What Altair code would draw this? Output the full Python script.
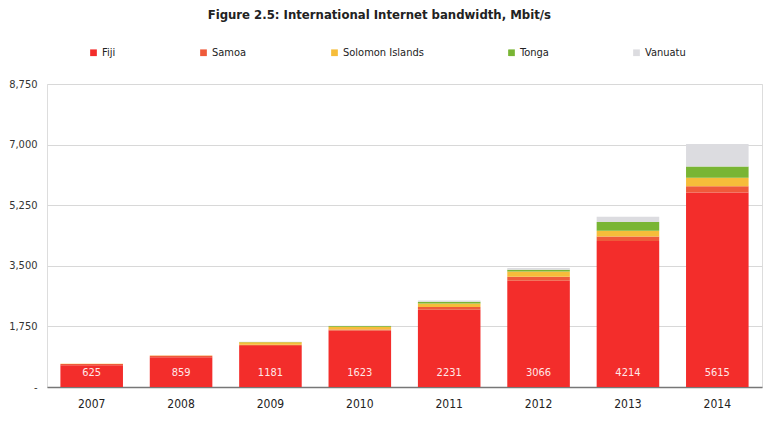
import altair as alt
import pandas as pd

years = ["2007", "2008", "2009", "2010", "2011", "2012", "2013", "2014"]
countries = ["Fiji", "Samoa", "Solomon Islands", "Tonga", "Vanuatu"]
fiji = [625, 859, 1181, 1623, 2231, 3066, 4214, 5615]
samoa = [40, 40, 40, 40, 80, 120, 130, 180]
solomon = [10, 10, 70, 80, 100, 150, 170, 250]
tonga = [0, 0, 10, 15, 50, 50, 250, 320]
vanuatu = [0, 0, 5, 10, 40, 50, 150, 650]
colors = ["#f32d2b", "#ef5a3a", "#f6bd3a", "#79b534", "#dcdce0"]

series = [fiji, samoa, solomon, tonga, vanuatu]
rows = []
for ci, (c, vals) in enumerate(zip(countries, series)):
    for y, v in zip(years, vals):
        rows.append({"year": y, "country": c, "value": v, "ord": ci})
df = pd.DataFrame(rows)
lab = pd.DataFrame({"year": years, "value": fiji})

FONT = "DejaVu Sans Condensed, Liberation Sans Narrow, Arial Narrow, Liberation Sans, sans-serif"

bars = alt.Chart(df).mark_bar().encode(
    x=alt.X("year:N", sort=years, title=None,
            scale=alt.Scale(paddingInner=0.3, paddingOuter=0.15),
            axis=alt.Axis(labelAngle=0, labelFont=FONT, labelFontSize=12,
                          labelColor="#222", labelPadding=11, ticks=False,
                          domainColor="#777", domainWidth=1.5)),
    y=alt.Y("value:Q", stack="zero", title=None,
            scale=alt.Scale(domain=[0, 8750], nice=False),
            axis=alt.Axis(values=[0, 1750, 3500, 5250, 7000, 8750],
                          labelExpr="datum.value == 0 ? '-' : format(datum.value, ',')",
                          labelFont=FONT, labelFontSize=11, labelColor="#333",
                          labelPadding=10, ticks=False, domain=False,
                          gridColor="#d8d8d8", gridWidth=1)),
    color=alt.Color("country:N", sort=countries,
                    scale=alt.Scale(domain=countries, range=colors),
                    legend=alt.Legend(title=None, orient="none", direction="horizontal",
                                      legendX=41, legendY=-37, columnPadding=82,
                                      symbolType="square", symbolSize=45,
                                      symbolStrokeWidth=0,
                                      labelFont=FONT, labelFontSize=11,
                                      labelColor="#222", labelOffset=3)),
    order=alt.Order("ord:Q", sort="ascending"),
)

labels = alt.Chart(lab).mark_text(
    color="#ffe8e8", font=FONT, fontSize=11, dy=-14
).transform_calculate(base="0").encode(
    x=alt.X("year:N", sort=years),
    y=alt.Y("base:Q"),
    text=alt.Text("value:Q", format="d"),
)

chart = alt.layer(bars, labels).properties(
    width=715, height=303,
    autosize=alt.AutoSizeParams(type="none"),
    padding={"left": 47, "top": 84, "right": 3, "bottom": 35},
    title=alt.TitleParams("Figure 2.5: International Internet bandwidth, Mbit/s",
                          font=FONT, fontSize=13, fontWeight="bold", color="#222",
                          anchor="middle", frame="bounds", offset=25, dx=-6),
).configure_view(stroke=None).configure(background="white")

chart.save("out.html", embed_options={"renderer": "svg", "actions": False})
